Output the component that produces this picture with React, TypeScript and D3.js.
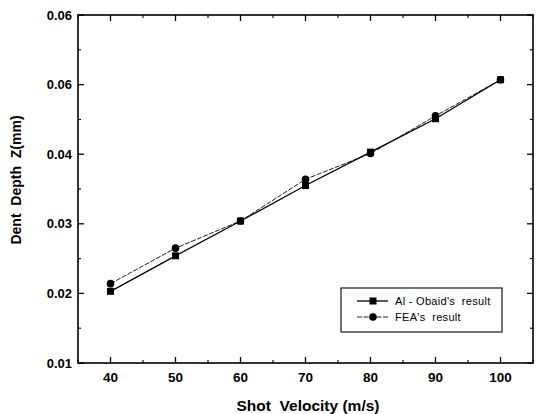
import React from "react";
import * as d3 from "d3";

const velocities = [40, 50, 60, 70, 80, 90, 100];
const alObaid = [0.0203, 0.0254, 0.0304, 0.0355, 0.0403, 0.0451, 0.0507];
const fea = [0.0214, 0.0265, 0.0304, 0.0364, 0.0401, 0.0455, 0.0507];
const xTicks = [40, 50, 60, 70, 80, 90, 100];
const xTickLabels = ["40", "50", "60", "70", "80", "90", "100"];
const xMinor = [35, 45, 55, 65, 75, 85, 95, 105];
const yTicks = [0.01, 0.02, 0.03, 0.04, 0.05, 0.06];
const yTickLabels = ["0.01", "0.02", "0.03", "0.04", "0.06", "0.06"];
const yMinor = [0.015, 0.025, 0.035, 0.045, 0.055];
const seriesNames = ["Al - Obaid's  result", "FEA's  result"];

const W = 536, H = 414;
const L = 78, R = 533, T = 15, B = 363;

export default function App() {
  const x = d3.scaleLinear().domain([35, 105]).range([L, R]);
  const y = d3.scaleLinear().domain([0.01, 0.06]).range([B, T]);
  const line = d3.line<number>().x((_, i) => x(velocities[i])).y((d) => y(d));
  const font = "'Liberation Sans', Arial, sans-serif";
  const maj = 6, mn = 3;
  return (
    <svg width={W} height={H} style={{ position: "absolute", left: 0, top: 0, background: "#fff" }}>
      <rect x={0} y={0} width={W} height={H} fill="#fff" />
      <rect x={L} y={T} width={R - L} height={B - T} fill="none" stroke="#000" strokeWidth={1.6} />
      {xTicks.map((t) => (
        <g key={"xt" + t}>
          <line x1={x(t)} x2={x(t)} y1={B} y2={B - maj} stroke="#000" strokeWidth={1.3} />
          <line x1={x(t)} x2={x(t)} y1={T} y2={T + maj} stroke="#000" strokeWidth={1.3} />
        </g>
      ))}
      {xMinor.map((t) => (
        <g key={"xm" + t}>
          <line x1={x(t)} x2={x(t)} y1={B} y2={B - mn} stroke="#000" strokeWidth={1.1} />
          <line x1={x(t)} x2={x(t)} y1={T} y2={T + mn} stroke="#000" strokeWidth={1.1} />
        </g>
      ))}
      {yTicks.map((t) => (
        <g key={"yt" + t}>
          <line x1={L} x2={L + maj} y1={y(t)} y2={y(t)} stroke="#000" strokeWidth={1.3} />
          <line x1={R} x2={R - maj} y1={y(t)} y2={y(t)} stroke="#000" strokeWidth={1.3} />
        </g>
      ))}
      {yMinor.map((t) => (
        <g key={"ym" + t}>
          <line x1={L} x2={L + mn} y1={y(t)} y2={y(t)} stroke="#000" strokeWidth={1.1} />
          <line x1={R} x2={R - mn} y1={y(t)} y2={y(t)} stroke="#000" strokeWidth={1.1} />
        </g>
      ))}
      {xTicks.map((t, i) => (
        <text key={"xl" + t} x={x(t)} y={B + 19} textAnchor="middle" fontFamily={font} fontWeight="bold" fontSize={13.5}>
          {xTickLabels[i]}
        </text>
      ))}
      {yTicks.map((t, i) => (
        <text key={"yl" + t} x={L - 6} y={y(t) + 4.5} textAnchor="end" fontFamily={font} fontWeight="bold" fontSize={13}>
          {yTickLabels[i]}
        </text>
      ))}
      <text x={308} y={411} textAnchor="middle" fontFamily={font} fontWeight="bold" fontSize={15.5} style={{ whiteSpace: "pre" }}>
        {"Shot  Velocity (m/s)"}
      </text>
      <text transform={`translate(21,180) rotate(-90)`} textAnchor="middle" fontFamily={font} fontWeight="bold" fontSize={14} style={{ whiteSpace: "pre" }}>
        {"Dent  Depth  Z(mm)"}
      </text>
      <path d={line(fea) || ""} fill="none" stroke="#222" strokeWidth={1} strokeDasharray="5,1.5" />
      <path d={line(alObaid) || ""} fill="none" stroke="#000" strokeWidth={1.3} />
      {alObaid.map((v, i) => (
        <rect key={"s" + i} x={x(velocities[i]) - 3.5} y={y(v) - 3.5} width={7} height={7} fill="#000" />
      ))}
      {fea.map((v, i) => (
        <circle key={"c" + i} cx={x(velocities[i])} cy={y(v)} r={3.8} fill="#000" />
      ))}
      <rect x={341} y={288} width={161} height={44} fill="#fff" stroke="#000" strokeWidth={1.1} />
      <line x1={357} x2={388} y1={301} y2={301} stroke="#000" strokeWidth={1.3} />
      <rect x={369.5} y={297.5} width={7} height={7} fill="#000" />
      <text x={395} y={305} fontFamily={font} fontSize={11} letterSpacing={0.3} style={{ whiteSpace: "pre" }}>{seriesNames[0]}</text>
      <line x1={357} x2={388} y1={317} y2={317} stroke="#222" strokeWidth={1} strokeDasharray="5,1.5" />
      <circle cx={373} cy={317} r={3.8} fill="#000" />
      <text x={395} y={321} fontFamily={font} fontSize={11} letterSpacing={0.3} style={{ whiteSpace: "pre" }}>{seriesNames[1]}</text>
    </svg>
  );
}
